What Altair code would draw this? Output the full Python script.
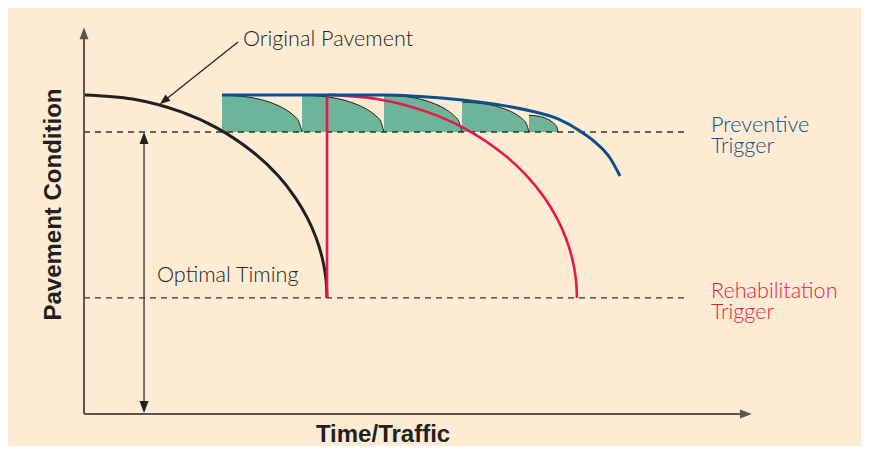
import altair as alt
import pandas as pd

# ---- data (units: time 0-100, condition 0-100) ----
orig_x = [0, 7.25, 14.51, 19.95, 25.39, 29.02, 31.55, 33.37, 34.64, 35.54, 36.09, 36.27]
orig_y = [82.45, 81.39, 78.07, 73.81, 67.45, 61.47, 55.86, 50.56, 45.56, 40.44, 35.24, 30.0]

red_x = [36.27, 43.73, 51.19, 56.79, 62.39, 66.12, 68.73, 70.6, 71.9, 72.83, 73.39, 73.58]
red_y = [82.45, 81.39, 78.07, 73.81, 67.45, 61.47, 55.86, 50.56, 45.56, 40.44, 35.24, 30.0]
red_vertical_x = 36.27

blue_x = [20.6, 32.24, 44.63, 50.15, 56.42, 62.09, 66.42, 70.75, 74.03, 76.27, 78.51, 80.0]
blue_y = [82.43, 82.43, 82.43, 82.04, 81.14, 79.84, 78.42, 76.23, 73.13, 70.28, 66.15, 61.5]

cell1_x = [20.60, 25.38, 28.36, 30.15, 31.35, 32.06, 32.54]
cell1_y = [82.43, 81.63, 80.14, 78.61, 77.04, 75.55, 72.87]
cell2_x = [32.54, 37.44, 40.50, 42.33, 43.56, 44.29, 44.78]
cell2_y = [82.43, 81.63, 80.14, 78.61, 77.04, 75.55, 72.87]
cell3_x = [44.78, 49.44, 52.35, 54.09, 55.26, 55.95, 56.42]
cell3_y = [82.43, 81.63, 80.14, 78.61, 77.04, 75.55, 72.87]
cell4_x = [56.42, 60.42, 62.92, 64.42, 65.42, 66.02, 66.42]
cell4_y = [80.60, 79.95, 78.74, 77.51, 76.24, 75.03, 72.87]
cell5_x = [66.42, 68.15, 69.23, 69.88, 70.32, 70.58, 70.75]
cell5_y = [77.20, 76.84, 76.16, 75.47, 74.76, 74.08, 72.87]

preventive_level = 72.87
rehab_level = 30.0
trigger_end_x = 89.9

timing_arrow_x = 8.96
x_axis_end = 98.8
y_axis_end = 98.4

# ---- colours ----
BG = "#fdecd3"
GREEN = "#6db49b"
BLACK = "#231f20"
RED = "#e8174b"
BLUE = "#0d4f8b"
AXIS = "#5d544d"

XS = alt.Scale(domain=[0, 100], nice=False, zero=False)
YS = alt.Scale(domain=[0, 100], nice=False, zero=False)


def X(f="x"):
    return alt.X(f + ":Q", scale=XS, axis=None)


def Y(f="y"):
    return alt.Y(f + ":Q", scale=YS, axis=None, stack=None)


# cells
cells = []
for name, xs, ys in [("c1", cell1_x, cell1_y), ("c2", cell2_x, cell2_y), ("c3", cell3_x, cell3_y),
                     ("c4", cell4_x, cell4_y), ("c5", cell5_x, cell5_y)]:
    for i, (a, b) in enumerate(zip(xs, ys)):
        cells.append({"cell": name, "x": a, "y": b, "base": preventive_level, "i": i})
cells_df = pd.DataFrame(cells)

cell_area = alt.Chart(cells_df).mark_area(color=GREEN, interpolate="monotone", opacity=1).encode(
    x=X(), y=Y(), y2="base:Q", detail="cell:N")
cell_edge = alt.Chart(cells_df).mark_line(color=BLACK, strokeWidth=1, interpolate="monotone").encode(
    x=X(), y=Y(), detail="cell:N", order="i:Q")

dash_df = pd.DataFrame({"x": [0, 0], "x2": [trigger_end_x, trigger_end_x], "y": [preventive_level, rehab_level]})
dashes = alt.Chart(dash_df).mark_rule(color="#333333", strokeWidth=1.3, strokeDash=[6, 5]).encode(
    x=X(), x2="x2:Q", y=Y())

orig_df = pd.DataFrame({"x": orig_x, "y": orig_y, "i": range(len(orig_x))})
orig_line = alt.Chart(orig_df).mark_line(color=BLACK, strokeWidth=3, interpolate="catmull-rom").encode(
    x=X(), y=Y(), order="i:Q")

red_df = pd.DataFrame({"x": red_x, "y": red_y, "i": range(len(red_x))})
red_line = alt.Chart(red_df).mark_line(color=RED, strokeWidth=2.6, interpolate="catmull-rom").encode(
    x=X(), y=Y(), order="i:Q")
redv_df = pd.DataFrame({"x": [red_vertical_x], "y": [rehab_level], "y2": [red_y[0]]})
red_v = alt.Chart(redv_df).mark_rule(color=RED, strokeWidth=2.6).encode(x=X(), y=Y(), y2="y2:Q")

blue_df = pd.DataFrame({"x": blue_x, "y": blue_y, "i": range(len(blue_x))})
blue_line = alt.Chart(blue_df).mark_line(color=BLUE, strokeWidth=3, interpolate="monotone").encode(
    x=X(), y=Y(), order="i:Q")

# axes
axes_df = pd.DataFrame({"x": [0, 0], "x2": [0, x_axis_end], "y": [0, 0], "y2": [y_axis_end, 0]})
axes = alt.Chart(axes_df).mark_rule(color=AXIS, strokeWidth=2).encode(x=X(), x2="x2:Q", y=Y(), y2="y2:Q")

# thin arrow lines
thin_df = pd.DataFrame({"x": [timing_arrow_x, 22.99], "x2": [timing_arrow_x, 11.92],
                        "y": [71.32, 96.12], "y2": [1.81, 80.9]})
thin = alt.Chart(thin_df).mark_rule(color=BLACK, strokeWidth=1.2).encode(x=X(), x2="x2:Q", y=Y(), y2="y2:Q")

ARROW = "M0,-1L0.75,1L-0.75,1Z"
head_df = pd.DataFrame({
    "x": [0, x_axis_end, timing_arrow_x, timing_arrow_x],
    "y": [y_axis_end, 0, 71.32, 1.81],
    "a": [0, 90, 0, 180],
    "c": [AXIS, AXIS, BLACK, BLACK],
})
heads = alt.Chart(head_df).mark_point(shape=ARROW, filled=True, size=144, opacity=1, strokeWidth=0).encode(
    x=X(), y=Y(), angle=alt.Angle("a:Q", scale=None), color=alt.Color("c:N", scale=None))
head2_df = pd.DataFrame({"x": [11.92], "y": [80.9], "a": [231.5]})
head2 = alt.Chart(head2_df).mark_point(shape=ARROW, filled=True, size=110, opacity=1, strokeWidth=0,
                                       color=BLACK).encode(
    x=X(), y=Y(), angle=alt.Angle("a:Q", scale=None))

# labels
FONT = "Lato"
FW = 300
FS = 21.6
lab_df = pd.DataFrame({"t": ["Original Pavement", "Optimal Timing"], "x": [23.73, 10.9], "y": [95.09, 34.19]})
labs = alt.Chart(lab_df).mark_text(align="left", baseline="alphabetic", font=FONT, fontWeight=FW,
                                   fontSize=FS, color=BLACK).encode(x=X(), y=Y(), text="t:N")
blue_lab_df = pd.DataFrame({"t": ["Preventive\nTrigger"], "x": [93.58], "y": [72.95]})
blue_labs = alt.Chart(blue_lab_df).mark_text(align="left", baseline="alphabetic", font=FONT, fontWeight=FW,
                                             fontSize=FS, lineHeight=21, lineBreak="\n", color=BLUE).encode(
    x=X(), y=Y(), text="t:N")
red_lab_df = pd.DataFrame({"t": ["Rehabilitation\nTrigger"], "x": [93.58], "y": [29.9]})
red_labs = alt.Chart(red_lab_df).mark_text(align="left", baseline="alphabetic", font=FONT, fontWeight=FW,
                                           fontSize=FS, lineHeight=21, lineBreak="\n", color=RED).encode(
    x=X(), y=Y(), text="t:N")

xt_df = pd.DataFrame({"t": ["Time/Traffic"], "x": [44.63], "y": [-7.24]})
xtitle = alt.Chart(xt_df).mark_text(align="center", baseline="alphabetic", font="Liberation Sans",
                                    fontWeight="bold", fontSize=24, color=BLACK).encode(x=X(), y=Y(), text="t:N")
yt_df = pd.DataFrame({"t": ["Pavement Condition"], "x": [-3.43], "y": [54.13]})
ytitle = alt.Chart(yt_df).mark_text(align="center", baseline="alphabetic", font="Liberation Sans",
                                    fontWeight="bold", fontSize=24, angle=270, color=BLACK).encode(
    x=X(), y=Y(), text="t:N")

chart = alt.layer(
    cell_area, dashes, cell_edge, orig_line, red_v, red_line, blue_line,
    axes, thin, heads, head2, labs, blue_labs, red_labs, xtitle, ytitle
).properties(
    width=670, height=387,
    autosize=alt.AutoSizeParams(type="none"),
    padding={"left": 76, "top": 19, "right": 107, "bottom": 32},
    background=BG,
).configure_view(stroke=None)

chart.save("out.html", embed_options={"renderer": "svg", "actions": False})
